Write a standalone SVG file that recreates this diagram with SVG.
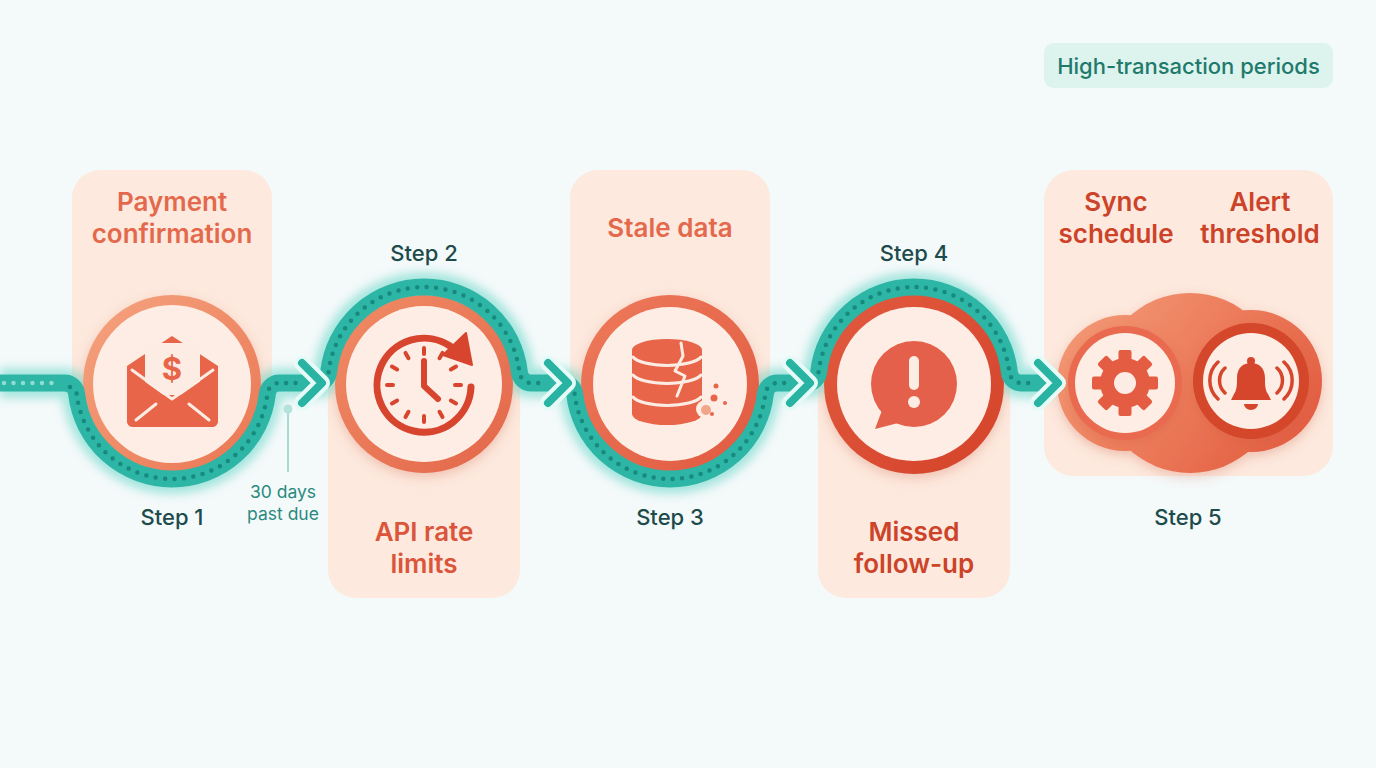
<svg xmlns="http://www.w3.org/2000/svg" width="1376" height="768" viewBox="0 0 1376 768">
<defs>
<style>
.t{font-family:Inter,"Liberation Sans",sans-serif;font-weight:600;font-size:26px;text-anchor:middle}
.c1{fill:#e4694c}.c2{fill:#da553a}.c4{fill:#cc4329}
.step{font-family:Inter,"Liberation Sans",sans-serif;font-weight:500;font-size:22px;fill:#1d4b4c;text-anchor:middle}
.card{fill:#fde9de}
.inner{fill:#fdede4}
.lt{fill:#fdece3}
.lts{fill:none;stroke:#fdece3;stroke-linecap:round;stroke-linejoin:round}
.glow{fill:none;stroke:#56d3c2;stroke-width:30;opacity:.5;filter:url(#blur)}
.track{fill:none;stroke:#2db5a5;stroke-width:17;stroke-linejoin:round}
.dots{fill:none;stroke:#17897d;stroke-width:4.5;stroke-linecap:round;stroke-dasharray:0 9.5}
.dotsl{fill:none;stroke:#8fdcd2;stroke-width:4.5;stroke-linecap:round;stroke-dasharray:0 9.5}
.chevo{fill:none;stroke:#e6fbf7;stroke-width:16;stroke-linecap:round;stroke-linejoin:round}
.chev{fill:none;stroke:#28b3a2;stroke-width:8;stroke-linecap:round;stroke-linejoin:round}
.cap{font-family:Inter,"Liberation Sans",sans-serif;font-size:17.5px;fill:#2a8a80;text-anchor:middle}
</style>
<filter id="blur" x="-20%" y="-50%" width="140%" height="200%"><feGaussianBlur stdDeviation="5"/></filter>
<filter id="sh" x="-30%" y="-30%" width="160%" height="160%"><feDropShadow dx="0" dy="4" stdDeviation="6" flood-color="#c9583a" flood-opacity="0.28"/></filter>
<mask id="outside" maskUnits="userSpaceOnUse" x="0" y="0" width="1376" height="768">
<rect width="1376" height="768" fill="#fff"/>
<circle cx="172" cy="384" r="89" fill="#000"/>
<circle cx="424" cy="384" r="89" fill="#000"/>
<circle cx="670" cy="384" r="89" fill="#000"/>
<circle cx="914" cy="384" r="90" fill="#000"/>
</mask>
<linearGradient id="g1" x1="0" y1="0" x2="1" y2="1"><stop offset="0" stop-color="#f5a47f"/><stop offset="1" stop-color="#ea7552"/></linearGradient>
<linearGradient id="g2" x1="0" y1="0" x2="1" y2="1"><stop offset="0" stop-color="#f08c66"/><stop offset="1" stop-color="#e3664a"/></linearGradient>
<linearGradient id="g3" x1="0" y1="0" x2="1" y2="1"><stop offset="0" stop-color="#ee7a5b"/><stop offset="1" stop-color="#e05a40"/></linearGradient>
<linearGradient id="g4" x1="0" y1="0" x2="1" y2="1"><stop offset="0" stop-color="#e25a3f"/><stop offset="1" stop-color="#d4432a"/></linearGradient>
<linearGradient id="gc" gradientUnits="userSpaceOnUse" x1="1080" y1="300" x2="1300" y2="470"><stop offset="0" stop-color="#f39a76"/><stop offset="0.5" stop-color="#ec7a5a"/><stop offset="1" stop-color="#e15a3f"/></linearGradient>
</defs>
<rect width="1376" height="768" fill="#f4f9fa"/>

<g id="legend">
<rect x="1044" y="43" width="289" height="45" rx="10" fill="#dcf3ee"/>
<text x="1188.5" y="74" font-family="Inter,'Liberation Sans',sans-serif" font-weight="500" font-size="22" fill="#1f7a6c" text-anchor="middle">High-transaction periods</text>
</g>

<g id="step1">
<path class="card" d="M72,383 V198 A28,28 0 0 1 100,170 H244 A28,28 0 0 1 272,198 V383 Z"/>
<text class="t c1" x="172" y="211">Payment</text>
<text class="t c1" x="172" y="243">confirmation</text>
<circle cx="172" cy="384" r="89" fill="url(#g1)" filter="url(#sh)"/>
<circle class="inner" cx="172" cy="384" r="79"/>
<g fill="#e8654a">
<path d="M127,366 L172,336 L218,366 V421 A6,6 0 0 1 212,427 H133 A6,6 0 0 1 127,421 Z"/>
<rect class="lt" x="145" y="343" width="55" height="52" rx="2"/>
<path d="M127,369 L172,401 L218,369 V421 A6,6 0 0 1 212,427 H133 A6,6 0 0 1 127,421 Z"/>
<path class="lts" stroke-width="3" d="M132,370 L172,399 L213,370 M136,420 L156,404 M209,420 L189,404"/>
<text x="172" y="380" font-family="Inter,'Liberation Sans',sans-serif" font-weight="700" font-size="31" text-anchor="middle">$</text>
</g>
<text class="step" x="172" y="525">Step 1</text>
</g>

<g id="step2">
<path class="card" d="M328,383 V570 A28,28 0 0 0 356,598 H492 A28,28 0 0 0 520,570 V383 Z"/>
<text class="t c2" x="424" y="541">API rate</text>
<text class="t c2" x="424" y="573">limits</text>
<circle cx="424" cy="384" r="89" fill="url(#g2)" filter="url(#sh)"/>
<circle class="inner" cx="424" cy="384" r="78"/>
<g stroke="#d8452f" fill="none" stroke-linecap="round">
<path d="M471,387 A47,47 0 1 1 450,346" stroke-width="7"/>
<g stroke-width="4" transform="translate(424,385)">
<line x1="0" y1="-37" x2="0" y2="-31"/>
<line x1="0" y1="-37" x2="0" y2="-31" transform="rotate(30)"/>
<line x1="0" y1="-37" x2="0" y2="-31" transform="rotate(60)"/>
<line x1="0" y1="-37" x2="0" y2="-31" transform="rotate(90)"/>
<line x1="0" y1="-37" x2="0" y2="-31" transform="rotate(120)"/>
<line x1="0" y1="-37" x2="0" y2="-31" transform="rotate(150)"/>
<line x1="0" y1="-37" x2="0" y2="-31" transform="rotate(180)"/>
<line x1="0" y1="-37" x2="0" y2="-31" transform="rotate(210)"/>
<line x1="0" y1="-37" x2="0" y2="-31" transform="rotate(240)"/>
<line x1="0" y1="-37" x2="0" y2="-31" transform="rotate(270)"/>
<line x1="0" y1="-37" x2="0" y2="-31" transform="rotate(300)"/>
<line x1="0" y1="-37" x2="0" y2="-31" transform="rotate(330)"/>
</g>
<path d="M424,361 V386 L438,399" stroke-width="6" stroke-linejoin="round"/>
</g>
<path d="M443,355 L466,333 L472,365 Z" fill="#d8452f" stroke="#d8452f" stroke-width="2" stroke-linejoin="round"/>
<text class="step" x="424" y="261">Step 2</text>
</g>

<g id="step3">
<path class="card" d="M570,383 V198 A28,28 0 0 1 598,170 H742 A28,28 0 0 1 770,198 V383 Z"/>
<text class="t c1" x="670" y="237">Stale data</text>
<circle cx="670" cy="384" r="89" fill="url(#g3)" filter="url(#sh)"/>
<circle class="inner" cx="670" cy="384" r="77"/>
<g fill="#e8654a">
<path d="M632,350 V414 A35,11 0 0 0 702,414 V350 Z"/>
<ellipse cx="667" cy="350" rx="35" ry="11"/>
<path class="lts" stroke-width="3" d="M633,357 A35,11 0 0 0 701,357 M633,375 A35,11 0 0 0 701,375 M633,397 A35,11 0 0 0 701,397"/>
<path class="lts" stroke-width="3" d="M681,343 L683,356 L675,371 L685,376 L677,396"/>
<circle class="lt" cx="705" cy="409" r="9"/>
<circle cx="716" cy="386" r="2.5"/>
<circle cx="714" cy="398" r="3.5"/>
<circle cx="725" cy="403" r="2"/>
<circle cx="712" cy="414" r="2"/>
<circle cx="706" cy="410" r="5" fill="#f1a58a"/>
</g>
<text class="step" x="670" y="525">Step 3</text>
</g>

<g id="step4">
<path class="card" d="M818,383 V570 A28,28 0 0 0 846,598 H982 A28,28 0 0 0 1010,570 V383 Z"/>
<text class="t c4" x="914" y="541">Missed</text>
<text class="t c4" x="914" y="573">follow-up</text>
<circle cx="914" cy="384" r="90" fill="url(#g4)" filter="url(#sh)"/>
<circle class="inner" cx="914" cy="384" r="77"/>
<g fill="#e5604a">
<circle cx="914" cy="384" r="43"/>
<path d="M884,405 L875,429 L906,421 Z"/>
</g>
<rect class="lt" x="909" y="356" width="10" height="34" rx="5"/>
<circle class="lt" cx="914" cy="402" r="6"/>
<text class="step" x="914" y="261">Step 4</text>
</g>

<g id="step5">
<rect class="card" x="1044" y="170" width="289" height="306" rx="30"/>
<text class="t c4" x="1116" y="211">Sync</text>
<text class="t c4" x="1116" y="243">schedule</text>
<text class="t c4" x="1260" y="211">Alert</text>
<text class="t c4" x="1260" y="243">threshold</text>
<g fill="url(#gc)" filter="url(#sh)">
<circle cx="1190" cy="383" r="90"/>
<circle cx="1125" cy="383" r="68"/>
<circle cx="1251" cy="381" r="71"/>
</g>
<circle cx="1125" cy="383" r="57" fill="#ea6b50" filter="url(#sh)"/>
<circle class="inner" cx="1125" cy="383" r="50"/>
<g fill="#e45d43" transform="translate(1125,383)">
<circle r="25"/>
<rect x="-6.5" y="-33" width="13" height="14" rx="2"/>
<rect x="-6.5" y="-33" width="13" height="14" rx="2" transform="rotate(45)"/>
<rect x="-6.5" y="-33" width="13" height="14" rx="2" transform="rotate(90)"/>
<rect x="-6.5" y="-33" width="13" height="14" rx="2" transform="rotate(135)"/>
<rect x="-6.5" y="-33" width="13" height="14" rx="2" transform="rotate(180)"/>
<rect x="-6.5" y="-33" width="13" height="14" rx="2" transform="rotate(225)"/>
<rect x="-6.5" y="-33" width="13" height="14" rx="2" transform="rotate(270)"/>
<rect x="-6.5" y="-33" width="13" height="14" rx="2" transform="rotate(315)"/>
<circle class="lt" r="11"/>
</g>
<circle cx="1251" cy="381" r="58" fill="#d4462b" filter="url(#sh)"/>
<circle class="inner" cx="1251" cy="381" r="48"/>
<g fill="#d5462c">
<circle cx="1251" cy="361" r="4"/>
<path d="M1231,400 L1234,394 C1237,390 1237,384 1237,378 C1237,368 1243,363 1251,363 C1259,363 1265,368 1265,378 C1265,384 1265,390 1268,394 L1271,400 Z"/>
<path d="M1244,404 A7,6 0 0 0 1258,404 Z"/>
</g>
<path d="M1225,368 A17,17 0 0 0 1225,393 M1218,362 A25,25 0 0 0 1218,399 M1277,368 A17,17 0 0 1 1277,393 M1284,362 A25,25 0 0 1 1284,399" fill="none" stroke="#d5462c" stroke-width="3.5" stroke-linecap="round"/>
<text class="step" x="1188" y="525">Step 5</text>
</g>

<g id="connectors">
<g mask="url(#outside)">
<path class="glow" d="M0,383 H64.67 A12,12 0 0 1 76.6,393.67 A96,96 0 0 0 267.4,393.67 A12,12 0 0 1 279.33,383 H316.67 A12,12 0 0 0 328.6,372.33 A96,96 0 0 1 519.4,372.33 A12,12 0 0 0 531.33,383 H562.67 A12,12 0 0 1 574.6,393.67 A96,96 0 0 0 765.4,393.67 A12,12 0 0 1 777.33,383 H806.67 A12,12 0 0 0 818.6,372.33 A96,96 0 0 1 1009.4,372.33 A12,12 0 0 0 1021.33,383 H1052"/>
</g>
<path class="track" d="M0,383 H64.67 A12,12 0 0 1 76.6,393.67 A96,96 0 0 0 267.4,393.67 A12,12 0 0 1 279.33,383 H316.67 A12,12 0 0 0 328.6,372.33 A96,96 0 0 1 519.4,372.33 A12,12 0 0 0 531.33,383 H562.67 A12,12 0 0 1 574.6,393.67 A96,96 0 0 0 765.4,393.67 A12,12 0 0 1 777.33,383 H806.67 A12,12 0 0 0 818.6,372.33 A96,96 0 0 1 1009.4,372.33 A12,12 0 0 0 1021.33,383 H1052"/>
<path class="dotsl" d="M4,383 H60"/>
<path class="dots" d="M70,387 A12,12 0 0 1 76.6,393.67 A96,96 0 0 0 267.4,393.67 A12,12 0 0 1 279.33,383 H296 M328.6,372.33 A96,96 0 0 1 519.4,372.33 A12,12 0 0 0 531.33,383 H544 M574.6,393.67 A96,96 0 0 0 765.4,393.67 A12,12 0 0 1 777.33,383 H788 M818.6,372.33 A96,96 0 0 1 1009.4,372.33 A12,12 0 0 0 1021.33,383 H1034"/>
<path class="chevo" d="M302,363 L322,383 L302,403 M548,363 L568,383 L548,403 M790,363 L810,383 L790,403 M1038,363 L1058,383 L1038,403"/>
<path class="chev" d="M302,363 L322,383 L302,403 M548,363 L568,383 L548,403 M790,363 L810,383 L790,403 M1038,363 L1058,383 L1038,403"/>
<line x1="288" y1="409" x2="288" y2="472" stroke="#a6dcd4" stroke-width="2"/>
<circle cx="288" cy="409" r="4.5" fill="#b5e3dc"/>
<text class="cap" x="283" y="498">30 days</text>
<text class="cap" x="283" y="520">past due</text>
</g>
</svg>
